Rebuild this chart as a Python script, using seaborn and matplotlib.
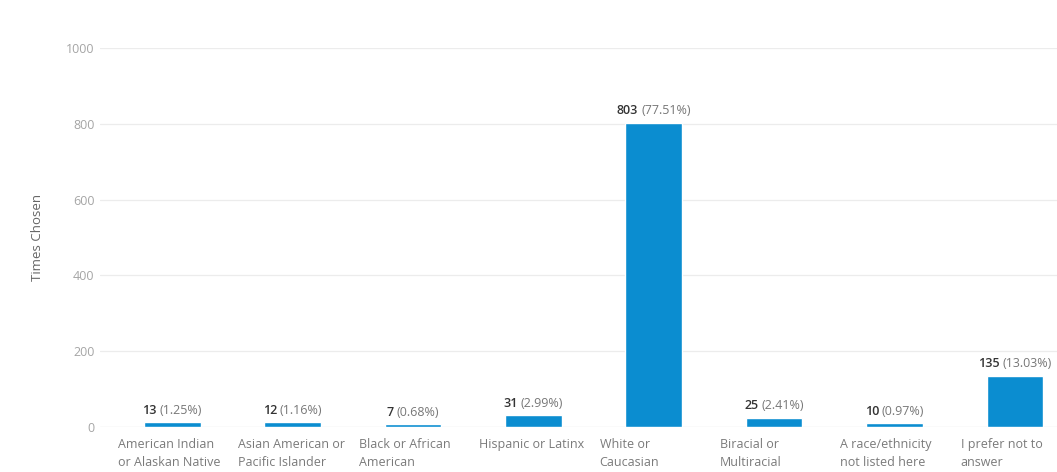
import matplotlib
matplotlib.use("Agg")
import matplotlib.pyplot as plt
import matplotlib.transforms as mtransforms
from matplotlib.offsetbox import TextArea, HPacker, AnnotationBbox
import seaborn as sns
import pandas as pd

categories = [
    "American Indian\nor Alaskan Native",
    "Asian American or\nPacific Islander",
    "Black or African\nAmerican",
    "Hispanic or Latinx",
    "White or\nCaucasian",
    "Biracial or\nMultiracial",
    "A race/ethnicity\nnot listed here",
    "I prefer not to\nanswer",
]
counts = [13, 12, 7, 31, 803, 25, 10, 135]
percents = ["1.25%", "1.16%", "0.68%", "2.99%", "77.51%", "2.41%", "0.97%", "13.03%"]
yticks = [0, 200, 400, 600, 800, 1000]

sns.set_theme(style="white")
plt.rcParams["font.family"] = ["Open Sans", "DejaVu Sans"]

BAR = "#0b8dd0"
df = pd.DataFrame({"category": categories, "count": counts})

fig = plt.figure(figsize=(10.57, 4.72), dpi=100)
ax = fig.add_axes([0.0946, 0.0953, 0.9054, 0.8030])

sns.barplot(data=df, x="category", y="count", color=BAR, saturation=1,
            width=0.47, ax=ax, zorder=3)

ax.set_xlim(-0.6, 7.35)
ax.set_ylim(0, 1000)
ax.set_yticks(yticks)
ax.set_yticklabels([str(t) for t in yticks], fontsize=9, color="#a5a5a5")
ax.tick_params(axis="y", length=0, pad=4)
ax.set_xticks([])
ax.set_xlabel("")
ax.set_ylabel("Times Chosen", fontsize=9.5, color="#666666")
ax.yaxis.set_label_coords(-0.058, 0.5)

for t in yticks[1:]:
    ax.axhline(t, color="#ececec", lw=0.9, zorder=1)
ax.axhline(0, color="#d8d8d8", lw=0.9, zorder=2)
for s in ax.spines.values():
    s.set_visible(False)

# category labels, left aligned under each bar
trans = mtransforms.blended_transform_factory(ax.transData, ax.transAxes)
for i, lab in enumerate(categories):
    ax.text(i - 0.45, -0.028, lab, transform=trans, ha="left", va="top",
            fontsize=9, color="#7a7a7a", linespacing=1.5)

# value labels: bold count followed by the share in grey
for i, (c, p) in enumerate(zip(counts, percents)):
    box = HPacker(children=[
        TextArea(str(c), textprops=dict(fontsize=9, fontweight="semibold", color="#333333")),
        TextArea(f"({p})", textprops=dict(fontsize=9, color="#777777")),
    ], align="baseline", pad=0, sep=2)
    ab = AnnotationBbox(box, (i, c), xybox=(0, 4), xycoords="data",
                        boxcoords="offset points", box_alignment=(0.5, 0),
                        frameon=False, pad=0, zorder=4)
    ax.add_artist(ab)

fig.savefig("out.png", dpi=100)
